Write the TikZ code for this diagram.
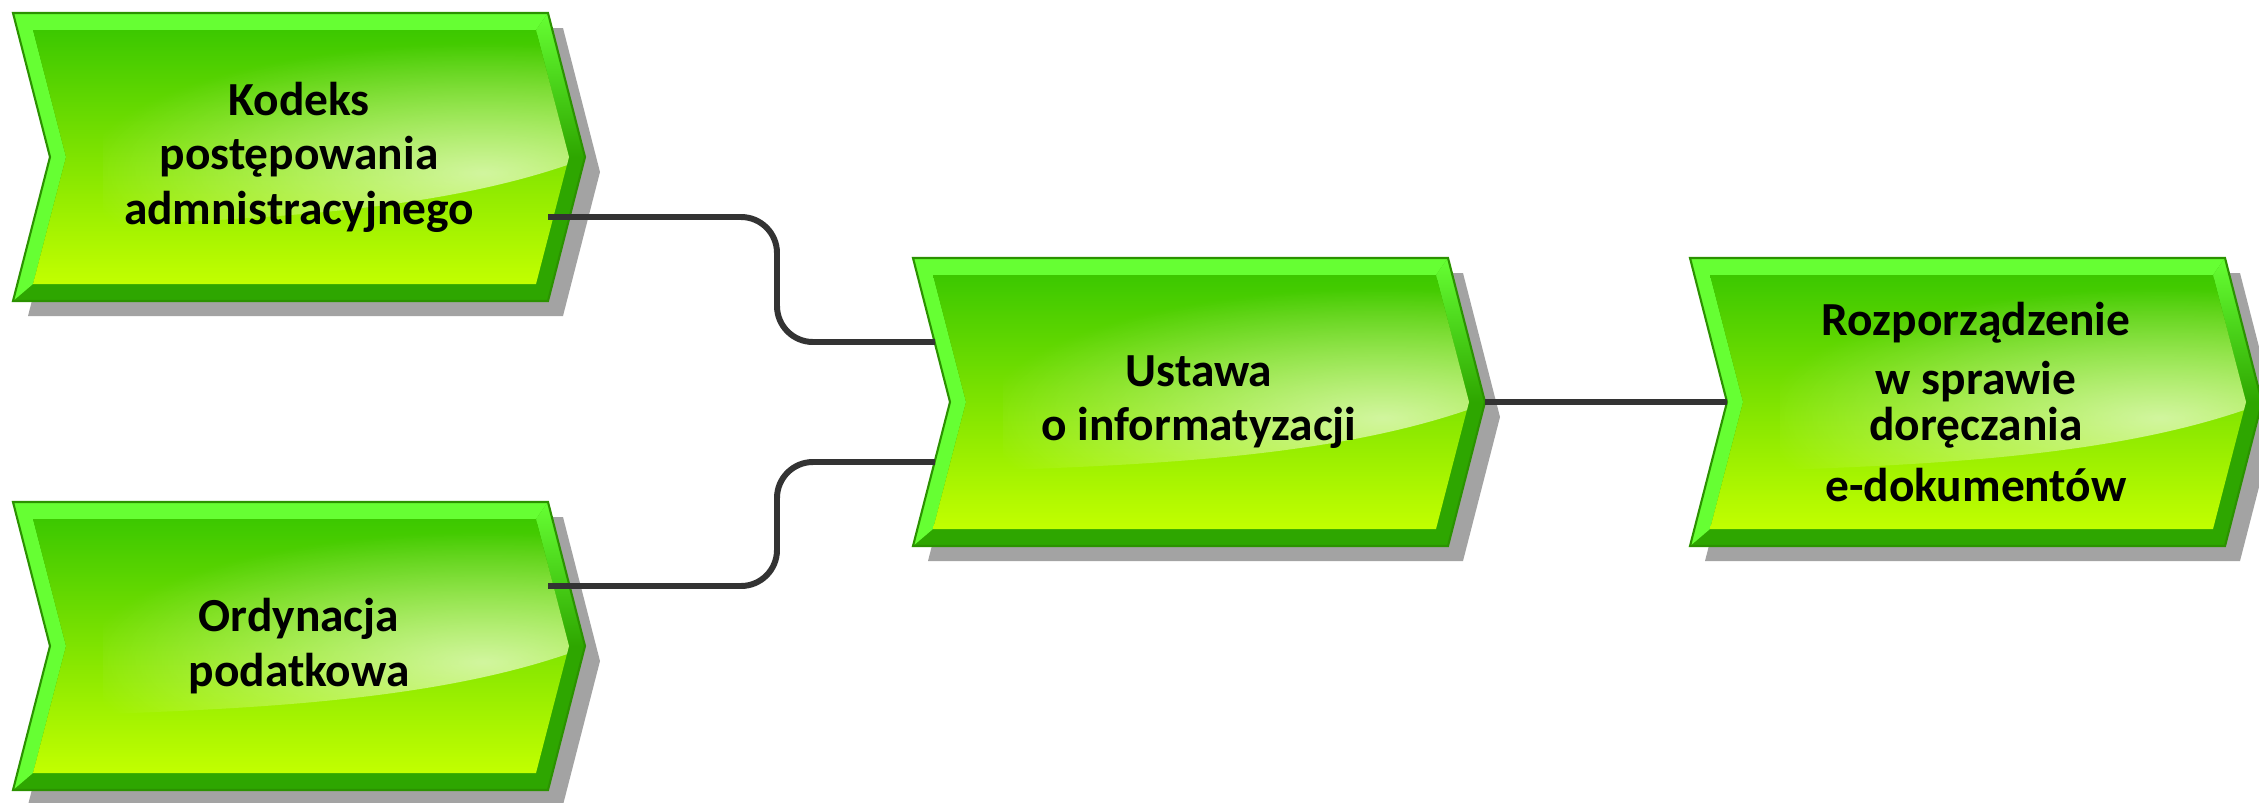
\documentclass[tikz,border=0pt]{standalone}
\usepackage{fontspec}
\setmainfont{Carlito}
\usetikzlibrary{calc,fadings}

\definecolor{boxedge}{HTML}{2B9200}
\definecolor{bandlight}{HTML}{66FF33}
\definecolor{banddark}{HTML}{2EA600}
\definecolor{facetop}{HTML}{3CC800}
\definecolor{facebot}{HTML}{C2FF00}
\definecolor{boxshade}{HTML}{A3A3A3}
\definecolor{linkgray}{HTML}{333333}

\tikzfading[name=glowfade, inner color=transparent!0, outer color=transparent!100]

% one act box: #1 name, #2/#3 top left corner of the body (px), #4 label
\newcommand{\lawbox}[4]{%
  \begin{scope}[shift={(#2,#3)}]
    \fill[boxshade] (15,15) -- ++(535,0) -- ++(37,144) -- ++(-37,144) -- ++(-535,0) -- ++(37,-144) -- cycle;
    \fill[banddark] (0,0) -- (535,0) -- (572,144) -- (535,288) -- (0,288) -- (37,144) -- cycle;
    \fill[bandlight] (0,0) -- (535,0) -- (523,17) -- (20,17) -- (53,144) -- (20,271) -- (0,288) -- (37,144) -- cycle;
    \shade[top color=bandlight, bottom color=banddark] (535,0) -- (572,144) -- (556,144) -- (523,17) -- cycle;
    \shade[top color=facetop, bottom color=facebot] (20,17) -- (523,17) -- (556,144) -- (523,271) -- (20,271) -- (53,144) -- cycle;
    \begin{scope} % gloss
      \clip (20,17) -- (523,17) -- (556,144) -- (523,271) -- (20,271) -- (53,144) -- cycle;
      \clip (90,212) .. controls (260,206) and (430,196) .. (560,150) -- (560,20) -- (90,20) -- cycle;
      \fill[white, fill opacity=0.62, path fading=glowfade] (470,160) ellipse (8cm and 2.6cm);
    \end{scope}
    \draw[boxedge, line width=1.2pt] (0,0) -- (535,0) -- (572,144) -- (535,288) -- (0,288) -- (37,144) -- cycle;
  \end{scope}
  \node[lawlabel] (#1) at (#2+286,#3+144) {#4};
}

\begin{document}
\begin{tikzpicture}[x=0.02cm, y=-0.02cm,
    lawlabel/.style={minimum width=11.44cm, minimum height=5.76cm, inner sep=0pt,
      align=center, font=\bfseries\fontsize{27}{31}\selectfont},
    link/.style={draw=linkgray, line width=3.4pt, rounded corners=0.72cm}]
  \useasboundingbox (0,0) rectangle (2259,802);

  \lawbox{kpa}{13}{13}{Kodeks\\postępowania\\admnistracyjnego}
  \lawbox{op}{13}{502}{Ordynacja\\podatkowa}
  \lawbox{ustawa}{913}{258}{Ustawa\\o informatyzacji}
  \lawbox{rozp}{1690}{258}{Rozporządzenie\\[3pt]w sprawie\\[-5pt]doręczania\\[4pt]e-dokumentów}

  % ends of the two incoming lines on the left side of the middle box
  \path ([shift={(-264,-60)}]ustawa.center) coordinate (ui-in1)
        ([shift={(-264,60)}]ustawa.center) coordinate (ui-in2);

  \draw[link] ([shift={(249,60)}]kpa.center) -| ([shift={(-158,0)}]ui-in1) -- (ui-in1);
  \draw[link] ([shift={(249,-60)}]op.center) -| ([shift={(-158,0)}]ui-in2) -- (ui-in2);
  \draw[link] (ustawa.east) -- ([shift={(37,0)}]rozp.west);
\end{tikzpicture}
\end{document}
